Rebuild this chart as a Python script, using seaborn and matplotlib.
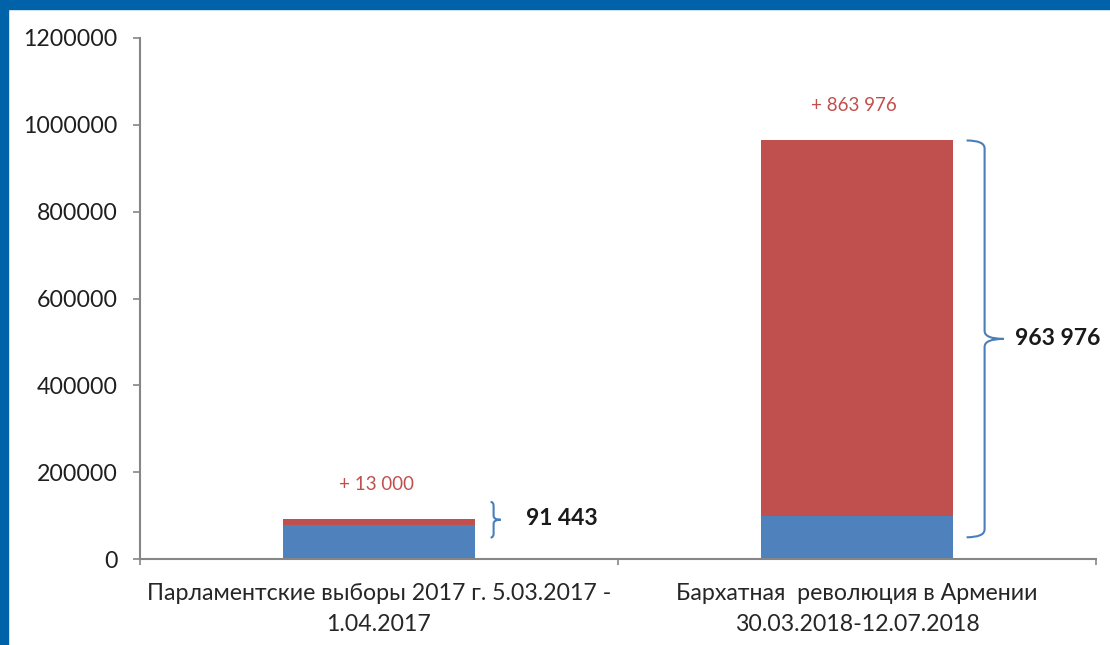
import matplotlib
matplotlib.use("Agg")
import matplotlib.pyplot as plt
from matplotlib.path import Path
from matplotlib.patches import PathPatch, Rectangle
import seaborn as sns
import pandas as pd

# ---- data ----
categories = ["Парламентские выборы 2017 г. 5.03.2017 -\n1.04.2017",
              "Бархатная  революция в Армении\n30.03.2018-12.07.2018"]
base_values = [78443, 100000]
added_values = [13000, 863976]
totals = [b + a for b, a in zip(base_values, added_values)]
yticks = [0, 200000, 400000, 600000, 800000, 1000000, 1200000]

BLUE = "#4f81bd"
RED = "#c0504d"
FRAME = "#0062a8"
AXC = "#868686"

sns.set_theme(style="white")
plt.rcParams["font.family"] = ["Lato", "DejaVu Sans"]

fig = plt.figure(figsize=(11.1, 6.45), dpi=100)
ax = fig.add_axes([140/1110, 1-559/645, (1096-140)/1110, (559-38)/645])

df = pd.DataFrame({"cat": categories, "total": totals, "base": base_values})
sns.barplot(data=df, x="cat", y="total", color=RED, width=0.4, ax=ax,
            saturation=1, edgecolor="none")
sns.barplot(data=df, x="cat", y="base", color=BLUE, width=0.4, ax=ax,
            saturation=1, edgecolor="none")

ax.set_xlim(-0.5, 1.5)
ax.set_ylim(0, 1200000)
ax.set_yticks(yticks)
ax.set_yticklabels([str(v) for v in yticks])
ax.set_xlabel("")
ax.set_ylabel("")
ax.set_xticks([0, 1])
ax.set_xticklabels(categories, fontsize=16.7, color="#262626", linespacing=1.6)
ax.set_xticks([-0.5, 0.5, 1.5], minor=True)

for s in ["top", "right"]:
    ax.spines[s].set_visible(False)
for s in ["left", "bottom"]:
    ax.spines[s].set_color(AXC)
    ax.spines[s].set_linewidth(1.5)

ax.tick_params(axis="y", which="major", left=True, length=5, width=1.2,
               color=AXC, pad=11, labelsize=16.7, labelcolor="#1f1f1f")
ax.tick_params(axis="x", which="major", bottom=False, length=0, pad=17)
ax.tick_params(axis="x", which="minor", bottom=True, length=4.5, width=1.2,
               color=AXC)

def fmt(v):
    return f"{v:,}".replace(",", " ")

# "+ added" labels above bars
for i, (t, a) in enumerate(zip(totals, added_values)):
    ax.annotate("+ " + fmt(a), xy=(i, t), xytext=(-2, 25), textcoords="offset points",
                ha="center", va="center", color=RED, fontsize=13.5)

PX_X = 1 / 478.0
PX_Y = 1200000 / 521.0

def brace(x0, xv, xt, yt, yb, r):
    ym = (yt + yb) / 2
    verts = [(x0, yt), (xv, yt), (xv, yt - r),
             (xv, ym + r), (xv, ym), (xt, ym),
             (xv, ym), (xv, ym - r),
             (xv, yb + r), (xv, yb), (x0, yb)]
    codes = [Path.MOVETO, Path.CURVE3, Path.CURVE3,
             Path.LINETO, Path.CURVE3, Path.CURVE3,
             Path.CURVE3, Path.CURVE3,
             Path.LINETO, Path.CURVE3, Path.CURVE3]
    ax.add_patch(PathPatch(Path(verts, codes), fill=False, edgecolor="#4a7ebb",
                           linewidth=1.5, clip_on=False))

# brace for first bar
e0 = 0.2
brace(e0 + 16*PX_X, e0 + 19*PX_X, e0 + 26*PX_X,
      totals[0] + 40000, totals[0] - 42000, 4*PX_Y)
ax.text(e0 + 51*PX_X, totals[0] + 2000, fmt(totals[0]), ha="left", va="center",
        fontsize=16.5, fontweight="bold", color="#1a1a1a")

# brace for second bar
e1 = 1.2
brace(e1 + 14*PX_X, e1 + 32*PX_X, e1 + 51*PX_X,
      totals[1], 50000, 8*PX_Y)
ax.text(e1 + 62*PX_X, (totals[1] + 50000) / 2, fmt(totals[1]), ha="left", va="center",
        fontsize=16.5, fontweight="bold", color="#1a1a1a")

# blue frame on top and left
fig.patches.append(Rectangle((0, 1 - 9/645), 1, 9/645, transform=fig.transFigure,
                             color=FRAME, zorder=10))
fig.patches.append(Rectangle((0, 0), 8/1110, 1, transform=fig.transFigure,
                             color=FRAME, zorder=10))

fig.savefig("out.png", dpi=100)
